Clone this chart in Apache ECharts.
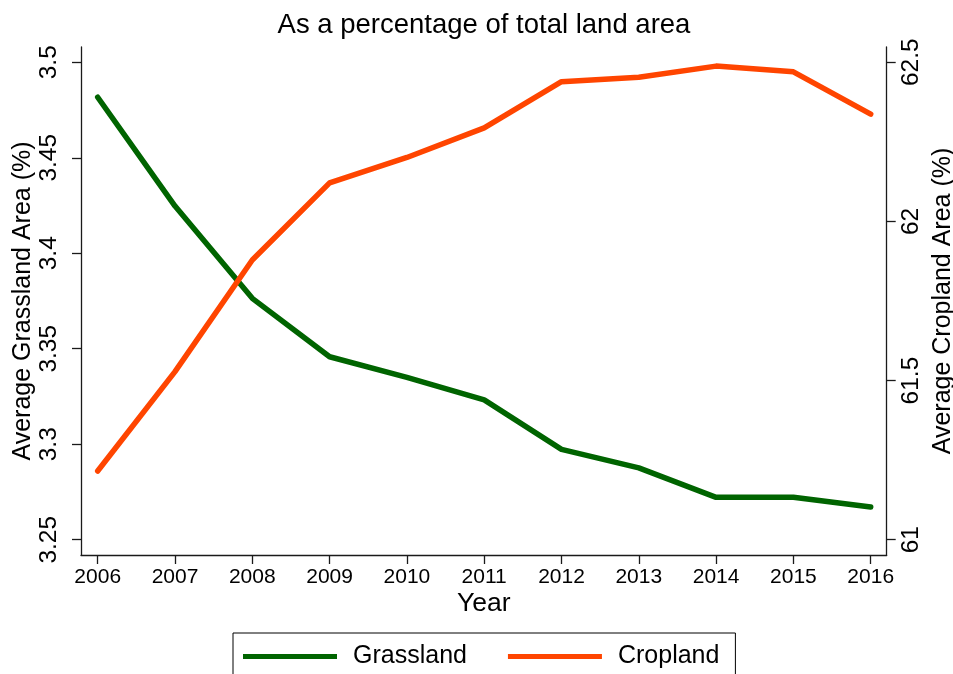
<!DOCTYPE html>
<html>
<head>
<meta charset="utf-8">
<script src="https://cdn.jsdelivr.net/npm/echarts@6/dist/echarts.min.js"></script>
<style>
  html, body { margin: 0; padding: 0; background: #fff; }
  #chart { width: 953px; height: 674px; }
</style>
</head>
<body>
<div id="chart"></div>
<script>
var years = [2006, 2007, 2008, 2009, 2010, 2011, 2012, 2013, 2014, 2015, 2016];
var grassland = [3.4817, 3.4247, 3.3764, 3.3458, 3.3350, 3.3232, 3.2973, 3.2876, 3.2722, 3.2722, 3.2671];
var cropland = [61.216, 61.528, 61.879, 62.121, 62.201, 62.294, 62.439, 62.453, 62.488, 62.470, 62.337];
var leftTicks = [3.25, 3.3, 3.35, 3.4, 3.45, 3.5];
var rightTicks = [61, 61.5, 62, 62.5];

var FONT = '"Liberation Sans", Arial, Helvetica, sans-serif';
var AXIS_COLOR = '#1a1a1a';

var chart = echarts.init(document.getElementById('chart'), null, { renderer: 'canvas' });

var option = {
  animation: false,
  backgroundColor: '#ffffff',
  textStyle: { fontFamily: FONT, color: '#000' },
  title: {
    text: 'As a percentage of total land area',
    left: 484,
    top: 11,
    textAlign: 'center',
    padding: 0,
    textStyle: { fontFamily: FONT, fontSize: 27.5, fontWeight: 'normal', color: '#000' }
  },
  grid: { left: 81, right: 66.3, top: 47, bottom: 119, containLabel: false, outerBoundsMode: 'none' },
  legend: {
    left: 233,
    top: 633,
    orient: 'horizontal',
    icon: 'rect',
    itemWidth: 94,
    itemHeight: 5,
    itemGap: 41,
    selectedMode: false,
    padding: [11, 16, 40, 10],
    borderColor: '#000',
    borderWidth: 1,
    backgroundColor: '#fff',
    textStyle: { fontFamily: FONT, fontSize: 25, color: '#000', padding: [0, 0, 0, 11] },
    data: ['Grassland', 'Cropland']
  },
  xAxis: {
    type: 'value',
    min: 2005.784,
    max: 2016.207,
    name: 'Year',
    nameLocation: 'middle',
    nameGap: 35,
    nameMoveOverlap: false,
    nameTextStyle: { fontFamily: FONT, fontSize: 26.5, color: '#000' },
    axisLine: { show: true, lineStyle: { color: AXIS_COLOR, width: 1.3 } },
    axisTick: { show: true, length: 9, customValues: years, lineStyle: { color: AXIS_COLOR, width: 1.3 } },
    axisLabel: { customValues: years, margin: 12, fontFamily: FONT, fontSize: 21, color: '#000',
      formatter: function (v) { return String(Math.round(v)); } },
    splitLine: { show: false }
  },
  yAxis: [
    {
      type: 'value',
      position: 'left',
      min: 3.242,
      max: 3.508,
      name: 'Average Grassland Area (%)',
      nameLocation: 'middle',
      nameRotate: 90,
      nameGap: 45,
      nameMoveOverlap: false,
      nameTextStyle: { fontFamily: FONT, fontSize: 25, color: '#000' },
      axisLine: { show: true, lineStyle: { color: AXIS_COLOR, width: 1.3 } },
      axisTick: { show: true, length: 9, customValues: leftTicks, lineStyle: { color: AXIS_COLOR, width: 1.3 } },
      axisLabel: { customValues: leftTicks, rotate: 90, margin: 19, fontFamily: FONT, fontSize: 24.5, color: '#000',
        formatter: function (v) { return String(+v.toFixed(2)); } },
      splitLine: { show: false }
    },
    {
      type: 'value',
      position: 'right',
      min: 60.952,
      max: 62.548,
      name: 'Average Cropland Area (%)',
      nameLocation: 'middle',
      nameRotate: 90,
      nameGap: 44,
      nameMoveOverlap: false,
      nameTextStyle: { fontFamily: FONT, fontSize: 25, color: '#000' },
      axisLine: { show: true, lineStyle: { color: AXIS_COLOR, width: 1.3 } },
      axisTick: { show: true, length: 9, customValues: rightTicks, lineStyle: { color: AXIS_COLOR, width: 1.3 } },
      axisLabel: { customValues: rightTicks, rotate: 90, margin: 12, fontFamily: FONT, fontSize: 24.5, color: '#000',
        formatter: function (v) { return String(+v.toFixed(1)); } },
      splitLine: { show: false }
    }
  ],
  series: [
    {
      name: 'Grassland',
      type: 'line',
      yAxisIndex: 0,
      showSymbol: false,
      symbol: 'none',
      color: '#006400',
      lineStyle: { width: 5.5, color: '#006400', cap: 'round', join: 'round' },
      data: years.map(function (y, i) { return [y, grassland[i]]; })
    },
    {
      name: 'Cropland',
      type: 'line',
      yAxisIndex: 1,
      showSymbol: false,
      symbol: 'none',
      color: '#ff4500',
      lineStyle: { width: 5.5, color: '#ff4500', cap: 'round', join: 'round' },
      data: years.map(function (y, i) { return [y, cropland[i]]; })
    }
  ]
};

chart.setOption(option);
</script>
</body>
</html>
